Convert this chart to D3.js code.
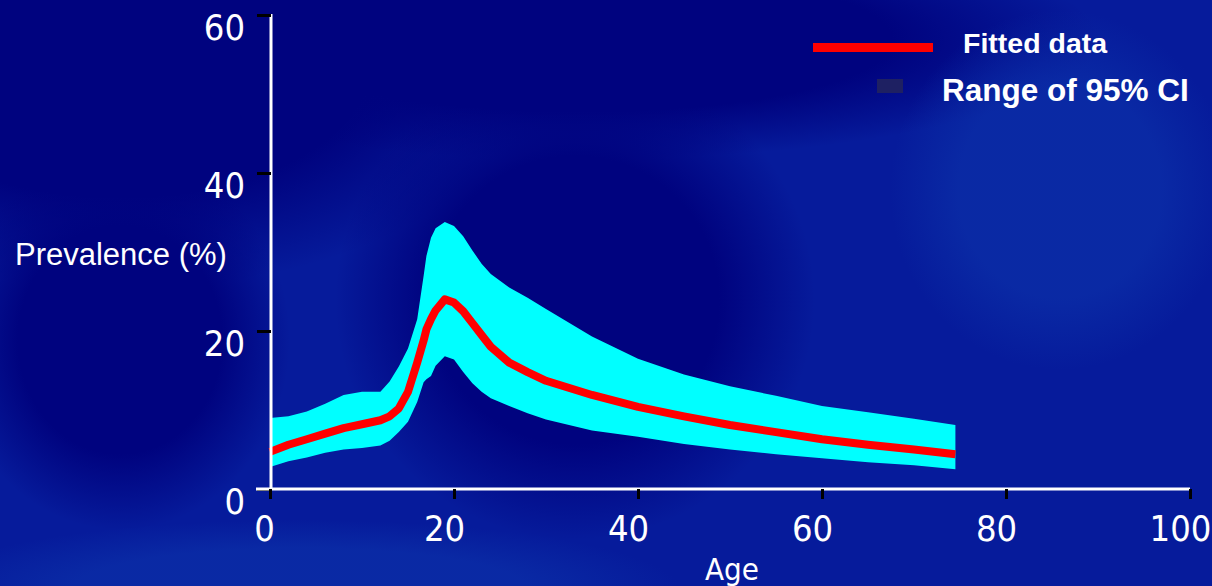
<!DOCTYPE html>
<html>
<head>
<meta charset="utf-8">
<script src="https://cdn.jsdelivr.net/npm/d3@7"></script>
<style>
  html, body { margin: 0; padding: 0; background: #061c9c; overflow: hidden; }
</style>
</head>
<body>
<div id="chart"></div>
<script>
"use strict";

const ages = [0, 2, 4, 6, 8, 10, 12, 13, 14, 15, 16, 16.7, 17, 17.5, 18, 19, 20, 21, 22, 23, 24, 26, 28, 30, 35, 40, 45, 50, 55, 60, 65, 70, 74.5];
const fitted = [4.7, 5.6, 6.3, 7.0, 7.7, 8.2, 8.7, 9.2, 10.2, 12.3, 16.0, 18.8, 20.2, 21.5, 22.6, 24.0, 23.6, 22.5, 21.0, 19.5, 18.0, 16.0, 14.8, 13.7, 11.9, 10.4, 9.2, 8.1, 7.2, 6.3, 5.6, 5.0, 4.4];
const ciUpper = [9.0, 9.2, 9.8, 10.8, 11.9, 12.3, 12.3, 13.6, 15.5, 17.8, 21.5, 27.0, 29.5, 31.8, 33.0, 33.8, 33.3, 32.0, 30.2, 28.5, 27.2, 25.5, 24.2, 22.8, 19.3, 16.5, 14.5, 13.0, 11.8, 10.5, 9.7, 8.9, 8.1];
const ciLower = [2.8, 3.5, 4.0, 4.6, 5.0, 5.2, 5.5, 6.1, 7.2, 8.5, 11.0, 13.5, 13.9, 14.3, 15.6, 16.8, 16.4, 14.8, 13.4, 12.3, 11.5, 10.5, 9.6, 8.8, 7.4, 6.6, 5.7, 5.0, 4.4, 3.9, 3.4, 3.0, 2.5];

const xTicks = [0, 20, 40, 60, 80, 100];
const yTicks = [0, 20, 40, 60];
const legendLabels = ["Fitted data", "Range of 95% CI"];

const plot = {
    width: 1212,
    height: 586,
    left: 270,
    right: 1190,
    top: 15,
    bottom: 489
}

const svg = d3.select("#chart")
    .append("svg")
    .attr("width", plot.width)
    .attr("height", plot.height);

// background of the slide template: lighter blue with darker patches
const defs = svg.append("defs");
function spotGradient(id, color, opacity) {
    let g = defs.append("radialGradient").attr("id", id);
    g.append("stop").attr("offset", "0%").attr("stop-color", color).attr("stop-opacity", opacity);
    g.append("stop").attr("offset", "60%").attr("stop-color", color).attr("stop-opacity", opacity);
    g.append("stop").attr("offset", "100%").attr("stop-color", color).attr("stop-opacity", 0);
}
spotGradient("darkSpot", "#00037f", 1);
spotGradient("lightSpot", "#0b2fa8", 0.7);

svg.append("rect")
    .attr("width", plot.width)
    .attr("height", plot.height)
    .attr("fill", "#061b9b");

const spots = [
    {cx: 120, cy: 60, rx: 420, ry: 230, f: "darkSpot"},
    {cx: 580, cy: 40, rx: 520, ry: 120, f: "darkSpot"},
    {cx: 575, cy: 300, rx: 240, ry: 240, f: "darkSpot"},
    {cx: 120, cy: 340, rx: 170, ry: 190, f: "darkSpot"},
    {cx: 1060, cy: 190, rx: 170, ry: 180, f: "lightSpot"},
    {cx: 300, cy: 590, rx: 380, ry: 70, f: "lightSpot"}
];
svg.append("g").selectAll("ellipse")
    .data(spots)
    .enter()
    .append("ellipse")
    .attr("cx", d => d.cx)
    .attr("cy", d => d.cy)
    .attr("rx", d => d.rx)
    .attr("ry", d => d.ry)
    .attr("fill", d => "url(#" + d.f + ")");

const xScale = d3.scaleLinear()
    .domain([0, 100])
    .range([plot.left, plot.right]);

const yScale = d3.scaleLinear()
    .domain([0, 60])
    .range([plot.bottom, plot.top]);

const rows = ages.map((a, i) => ({age: a, fit: fitted[i], lo: ciLower[i], hi: ciUpper[i]}));

// 95% CI band
svg.append("path")
    .datum(rows)
    .attr("fill", "#00ffff")
    .attr("d", d3.area()
        .x(d => xScale(d.age))
        .y0(d => yScale(d.lo))
        .y1(d => yScale(d.hi)));

// fitted line
svg.append("path")
    .datum(rows)
    .attr("fill", "none")
    .attr("stroke", "#ff0000")
    .attr("stroke-width", 8)
    .attr("stroke-linejoin", "round")
    .attr("d", d3.line()
        .x(d => xScale(d.age))
        .y(d => yScale(d.fit)));

const tickFont = "'DejaVu Sans Condensed', 'DejaVu Sans', sans-serif";

// y axis
const yAxis = d3.axisLeft(yScale)
    .tickValues(yTicks)
    .tickSize(14)
    .tickSizeOuter(0)
    .tickPadding(12);
const gy = svg.append("g")
    .attr("transform", "translate(" + (plot.left + 1) + ",0)")
    .call(yAxis);
gy.select(".domain").attr("stroke", "#ffffff").attr("stroke-width", 3)
    .attr("d", "M0," + (plot.top - 1) + "V" + plot.bottom);
gy.selectAll(".tick line").attr("stroke", "#000000").attr("stroke-width", 3);
gy.selectAll(".tick text")
    .attr("fill", "#ffffff")
    .attr("dy", "0.72em")
    .attr("y", -1)
    .style("font-family", tickFont)
    .style("font-size", "36px")
    .style("font-stretch", "condensed");

// x axis
const xAxis = d3.axisBottom(xScale)
    .tickValues(xTicks)
    .tickSize(10)
    .tickSizeOuter(0)
    .tickPadding(16);
const gx = svg.append("g")
    .attr("transform", "translate(0," + plot.bottom + ")")
    .call(xAxis);
gx.select(".domain").attr("stroke", "#ffffff").attr("stroke-width", 3)
    .attr("d", "M" + (plot.left - 14) + ",0H" + plot.right);
gx.selectAll(".tick line").attr("stroke", "#000000").attr("stroke-width", 3);
gx.selectAll(".tick text")
    .attr("fill", "#ffffff")
    .attr("dx", d => d == 0 ? -6 : -10)
    .style("font-family", tickFont)
    .style("font-size", "36px")
    .style("font-stretch", "condensed");

// axis titles
svg.append("text")
    .attr("x", (plot.left + plot.right) / 2 + 2)
    .attr("y", 580)
    .attr("text-anchor", "middle")
    .attr("fill", "#ffffff")
    .style("font-family", tickFont)
    .style("font-stretch", "condensed")
    .style("font-size", "31px")
    .text("Age");

svg.append("text")
    .attr("x", 15)
    .attr("y", 265)
    .attr("fill", "#ffffff")
    .style("font-family", "'Liberation Sans', Arial, sans-serif")
    .style("font-size", "31px")
    .text("Prevalence (%)");

// legend
const legend = svg.append("g");
legend.append("line")
    .attr("x1", 813).attr("x2", 933)
    .attr("y1", 47.5).attr("y2", 47.5)
    .attr("stroke", "#ff0000")
    .attr("stroke-width", 9);
legend.append("rect")
    .attr("x", 877).attr("y", 79)
    .attr("width", 26).attr("height", 14)
    .attr("fill", "#1e2062");
legend.append("text")
    .attr("x", 963).attr("y", 53)
    .attr("fill", "#ffffff")
    .style("font-family", "'Liberation Sans', Arial, sans-serif")
    .style("font-weight", "bold")
    .style("font-size", "28.5px")
    .text(legendLabels[0]);
legend.append("text")
    .attr("x", 942).attr("y", 101)
    .attr("fill", "#ffffff")
    .style("font-family", "'Liberation Sans', Arial, sans-serif")
    .style("font-weight", "bold")
    .style("font-size", "31.5px")
    .text(legendLabels[1]);
</script>
</body>
</html>
